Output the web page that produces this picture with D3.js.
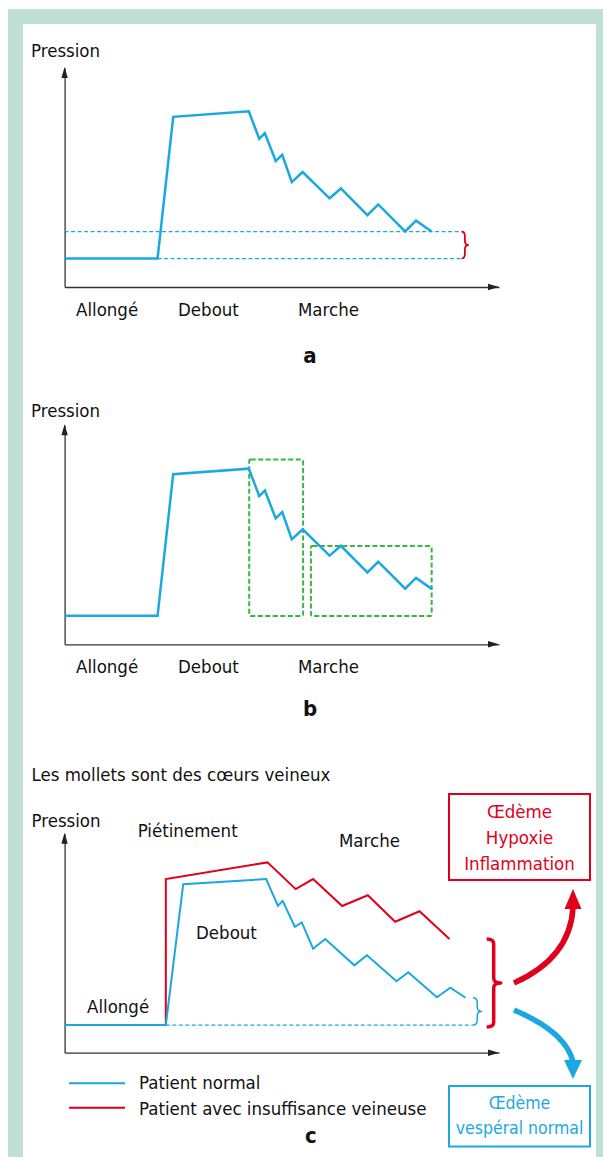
<!DOCTYPE html>
<html>
<head>
<meta charset="utf-8">
<script src="https://cdn.jsdelivr.net/npm/d3@7"></script>
<style>
  body { margin: 0; background: #fff; }
  svg text { font-family: "Liberation Sans Narrow", "DejaVu Sans Condensed", "Liberation Sans", sans-serif; }
</style>
</head>
<body>
<div id="chart"></div>
<script>
// time (0-100) and pressure (0-100) values
const normalT = [0, 21.4, 25.0, 42.4, 44.8, 46.1, 48.6, 50.1, 52.3, 54.8, 61.0, 63.6, 69.7, 72.2, 78.4, 80.9, 84.5];
const normalP = [13.0, 13.0, 77.7, 80.2, 67.7, 70.2, 57.5, 60.4, 47.9, 52.5, 40.5, 45.0, 32.8, 37.7, 25.4, 30.3, 25.3];

// panel b : the two walking phases
const boxT0 = [42.5, 56.7];
const boxT1 = [54.9, 84.5];
const boxP0 = [12.9, 12.9];
const boxP1 = [84.4, 44.9];

// panel c
const normalCT = [0, 23.3, 27.3, 46.4, 49.1, 50.2, 53.0, 54.6, 57.2, 60.0, 66.7, 69.6, 76.4, 79.1, 85.7, 88.8, 92.3];
const normalCP = [12.6, 12.6, 76.9, 79.3, 67.1, 69.3, 57.5, 59.5, 47.5, 51.9, 39.9, 44.5, 32.6, 36.7, 25.3, 29.7, 25.1];
const venousT = [23.3, 23.3, 46.7, 53.2, 57.2, 63.9, 69.8, 76.1, 81.7, 88.6];
const venousP = [12.6, 79.3, 86.9, 74.7, 79.3, 67.0, 71.9, 59.8, 64.6, 51.9];

const xLabels = ["Allongé", "Debout", "Marche"];
const legendLabels = ["Patient normal", "Patient avec insuffisance veineuse"];
const redBoxLines = ["Œdème", "Hypoxie", "Inflammation"];
const blueBoxLines = ["Œdème", "vespéral normal"];

const W = 603, H = 1157;
const BLUE = "#1ba8e2", RED = "#e1001b", GREEN = "#36b83e", TEAL = "#bfe0d6";
const FS = 18.5;

const svg = d3.select("#chart").append("svg")
  .attr("width", W).attr("height", H)
  .attr("viewBox", [0, 0, W, H]);

svg.append("rect").attr("width", W).attr("height", H).attr("fill", "#fff");
svg.append("rect").attr("x", 8).attr("y", 9).attr("width", 620).attr("height", 1200).attr("fill", TEAL);
svg.append("rect").attr("x", 23).attr("y", 24).attr("width", 573).attr("height", 1200).attr("fill", "#fff");

const x = d3.scaleLinear().domain([0, 100]).range([64.6, 499]);
const line = d3.line();

function panel(axisY) {
  const y = d3.scaleLinear().domain([0, 100]).range([axisY, axisY - 219]);
  const g = svg.append("g");
  g.append("g").attr("transform", `translate(${x(0)},0)`)
    .call(d3.axisLeft(y).tickValues([]).tickSizeOuter(0));
  g.append("g").attr("transform", `translate(0,${y(0)})`)
    .call(d3.axisBottom(x).tickValues([]).tickSizeOuter(0));
  g.selectAll(".domain").attr("stroke", "#333").attr("stroke-width", 1.3);
  // arrow heads
  g.append("path")
    .attr("d", `M${x(0)},${y(100) - 1}l-3.2,11h6.4z`)
    .attr("fill", "#222");
  g.append("path")
    .attr("d", `M${x(100)},${y(0)}l-11,-3.2v6.4z`)
    .attr("fill", "#222");
  return { g, y };
}

function brace(g, x0, ya, yb, w, color, sw) {
  const xm = x0 + w / 2, ym = (ya + yb) / 2, r = Math.min(5, (yb - ya) / 6);
  g.append("path")
    .attr("d", `M${x0},${ya}Q${xm},${ya} ${xm},${ya + r}L${xm},${ym - r}Q${xm},${ym} ${x0 + w},${ym}` +
      `Q${xm},${ym} ${xm},${ym + r}L${xm},${yb - r}Q${xm},${yb} ${x0},${yb}`)
    .attr("fill", "none").attr("stroke", color).attr("stroke-width", sw)
    .attr("stroke-linejoin", "round");
}

function text(g, s, tx, ty, opts = {}) {
  return g.append("text").attr("x", tx).attr("y", ty)
    .attr("font-size", opts.size || FS)
    .attr("font-weight", opts.bold ? "bold" : null)
    .attr("text-anchor", opts.anchor || "start")
    .attr("fill", opts.fill || "#111")
    .text(s);
}

const pts = (T, P, y) => T.map((t, i) => [x(t), y(P[i])]);

// ---------- panel a ----------
{
  const { g, y } = panel(287);
  const lastT = 91.4;
  const hi = normalP[normalP.length - 1], lo = normalP[0];
  g.append("path")
    .attr("d", line([[x(0), y(hi)], [x(lastT), y(hi)]]))
    .attr("stroke", BLUE).attr("stroke-width", 1.2).attr("stroke-dasharray", "4,2.5");
  g.append("path")
    .attr("d", line([[x(normalT[1]), y(lo)], [x(lastT), y(lo)]]))
    .attr("stroke", BLUE).attr("stroke-width", 1.2).attr("stroke-dasharray", "4,2.5");
  g.append("path")
    .attr("d", line(pts(normalT, normalP, y)))
    .attr("fill", "none").attr("stroke", BLUE).attr("stroke-width", 2.5);
  brace(g, x(lastT), y(hi), y(lo), 6.5, RED, 1.8);
  text(g, "Pression", 31, 57);
  [76, 178, 298].forEach((lx, i) => text(g, xLabels[i], lx, 316));
  text(g, "a", 310, 363, { bold: true, size: 22, anchor: "middle" });
}

// ---------- panel b ----------
{
  const { g, y } = panel(644.3);
  boxT0.forEach((t, i) => {
    g.append("rect")
      .attr("x", x(t)).attr("y", y(boxP1[i]))
      .attr("width", x(boxT1[i]) - x(t)).attr("height", y(boxP0[i]) - y(boxP1[i]))
      .attr("rx", 1.5)
      .attr("fill", "none").attr("stroke", GREEN).attr("stroke-width", 2)
      .attr("stroke-dasharray", "5,2.5");
  });
  g.append("path")
    .attr("d", line(pts(normalT, normalP, y)))
    .attr("fill", "none").attr("stroke", BLUE).attr("stroke-width", 2.5);
  text(g, "Pression", 31, 416.7);
  [76, 178, 298].forEach((lx, i) => text(g, xLabels[i], lx, 673.3));
  text(g, "b", 310, 716, { bold: true, size: 22, anchor: "middle" });
}

// ---------- panel c ----------
{
  const { g, y } = panel(1052.7);
  const lastT = 94.0;
  const lo = normalCP[0];
  g.append("path")
    .attr("d", line([[x(normalCT[1]), y(lo)], [x(lastT), y(lo)]]))
    .attr("stroke", BLUE).attr("stroke-width", 1.2).attr("stroke-dasharray", "4,2.5");
  g.append("path")
    .attr("d", line(pts(venousT, venousP, y)))
    .attr("fill", "none").attr("stroke", RED).attr("stroke-width", 2);
  g.append("path")
    .attr("d", line(pts(normalCT, normalCP, y)))
    .attr("fill", "none").attr("stroke", BLUE).attr("stroke-width", 2);

  brace(g, x(lastT), y(normalCP[normalCP.length - 1]), y(lo), 8.5, BLUE, 1.5);
  brace(g, 486.7, y(venousP[venousP.length - 1]), y(lo) + 2, 14, RED, 3.5);

  // arrows
  g.append("path").attr("d", "M514,983Q570,958 573,908")
    .attr("fill", "none").attr("stroke", RED).attr("stroke-width", 5.5);
  g.append("path").attr("d", "M573,889l-8.5,20h17z").attr("fill", RED);
  g.append("path").attr("d", "M514,1010Q566,1032 573,1062")
    .attr("fill", "none").attr("stroke", BLUE).attr("stroke-width", 5.5);
  g.append("path").attr("d", "M573,1079l-9,-19h18z").attr("fill", BLUE);

  // boxes
  g.append("rect").attr("x", 449).attr("y", 794).attr("width", 141).attr("height", 86)
    .attr("fill", "#fff").attr("stroke", RED).attr("stroke-width", 2);
  redBoxLines.forEach((s, i) => text(g, s, 519.5, 817.5 + i * 26.3, { anchor: "middle", fill: RED }));
  g.append("rect").attr("x", 449).attr("y", 1086).attr("width", 141).attr("height", 60.5)
    .attr("fill", "#fff").attr("stroke", BLUE).attr("stroke-width", 2);
  blueBoxLines.forEach((s, i) => text(g, s, 519.5, 1108.5 + i * 25.7, { anchor: "middle", fill: BLUE, size: 17.5 }));

  text(g, "Les mollets sont des cœurs veineux", 31.5, 780.7);
  text(g, "Pression", 31.5, 826.7);
  text(g, "Piétinement", 137.7, 836.7);
  text(g, "Marche", 339, 846.7);
  text(g, "Debout", 196, 939.3);
  text(g, "Allongé", 87, 1013.3);

  // legend
  [BLUE, RED].forEach((c, i) => {
    const ly = 1083.3 + i * 24.4;
    g.append("path").attr("d", line([[69, ly], [125, ly]]))
      .attr("stroke", c).attr("stroke-width", 2);
    text(g, legendLabels[i], 139, 1089.3 + i * 25.7);
  });
  text(g, "c", 310.8, 1143.3, { bold: true, size: 22, anchor: "middle" });
}
</script>
</body>
</html>
